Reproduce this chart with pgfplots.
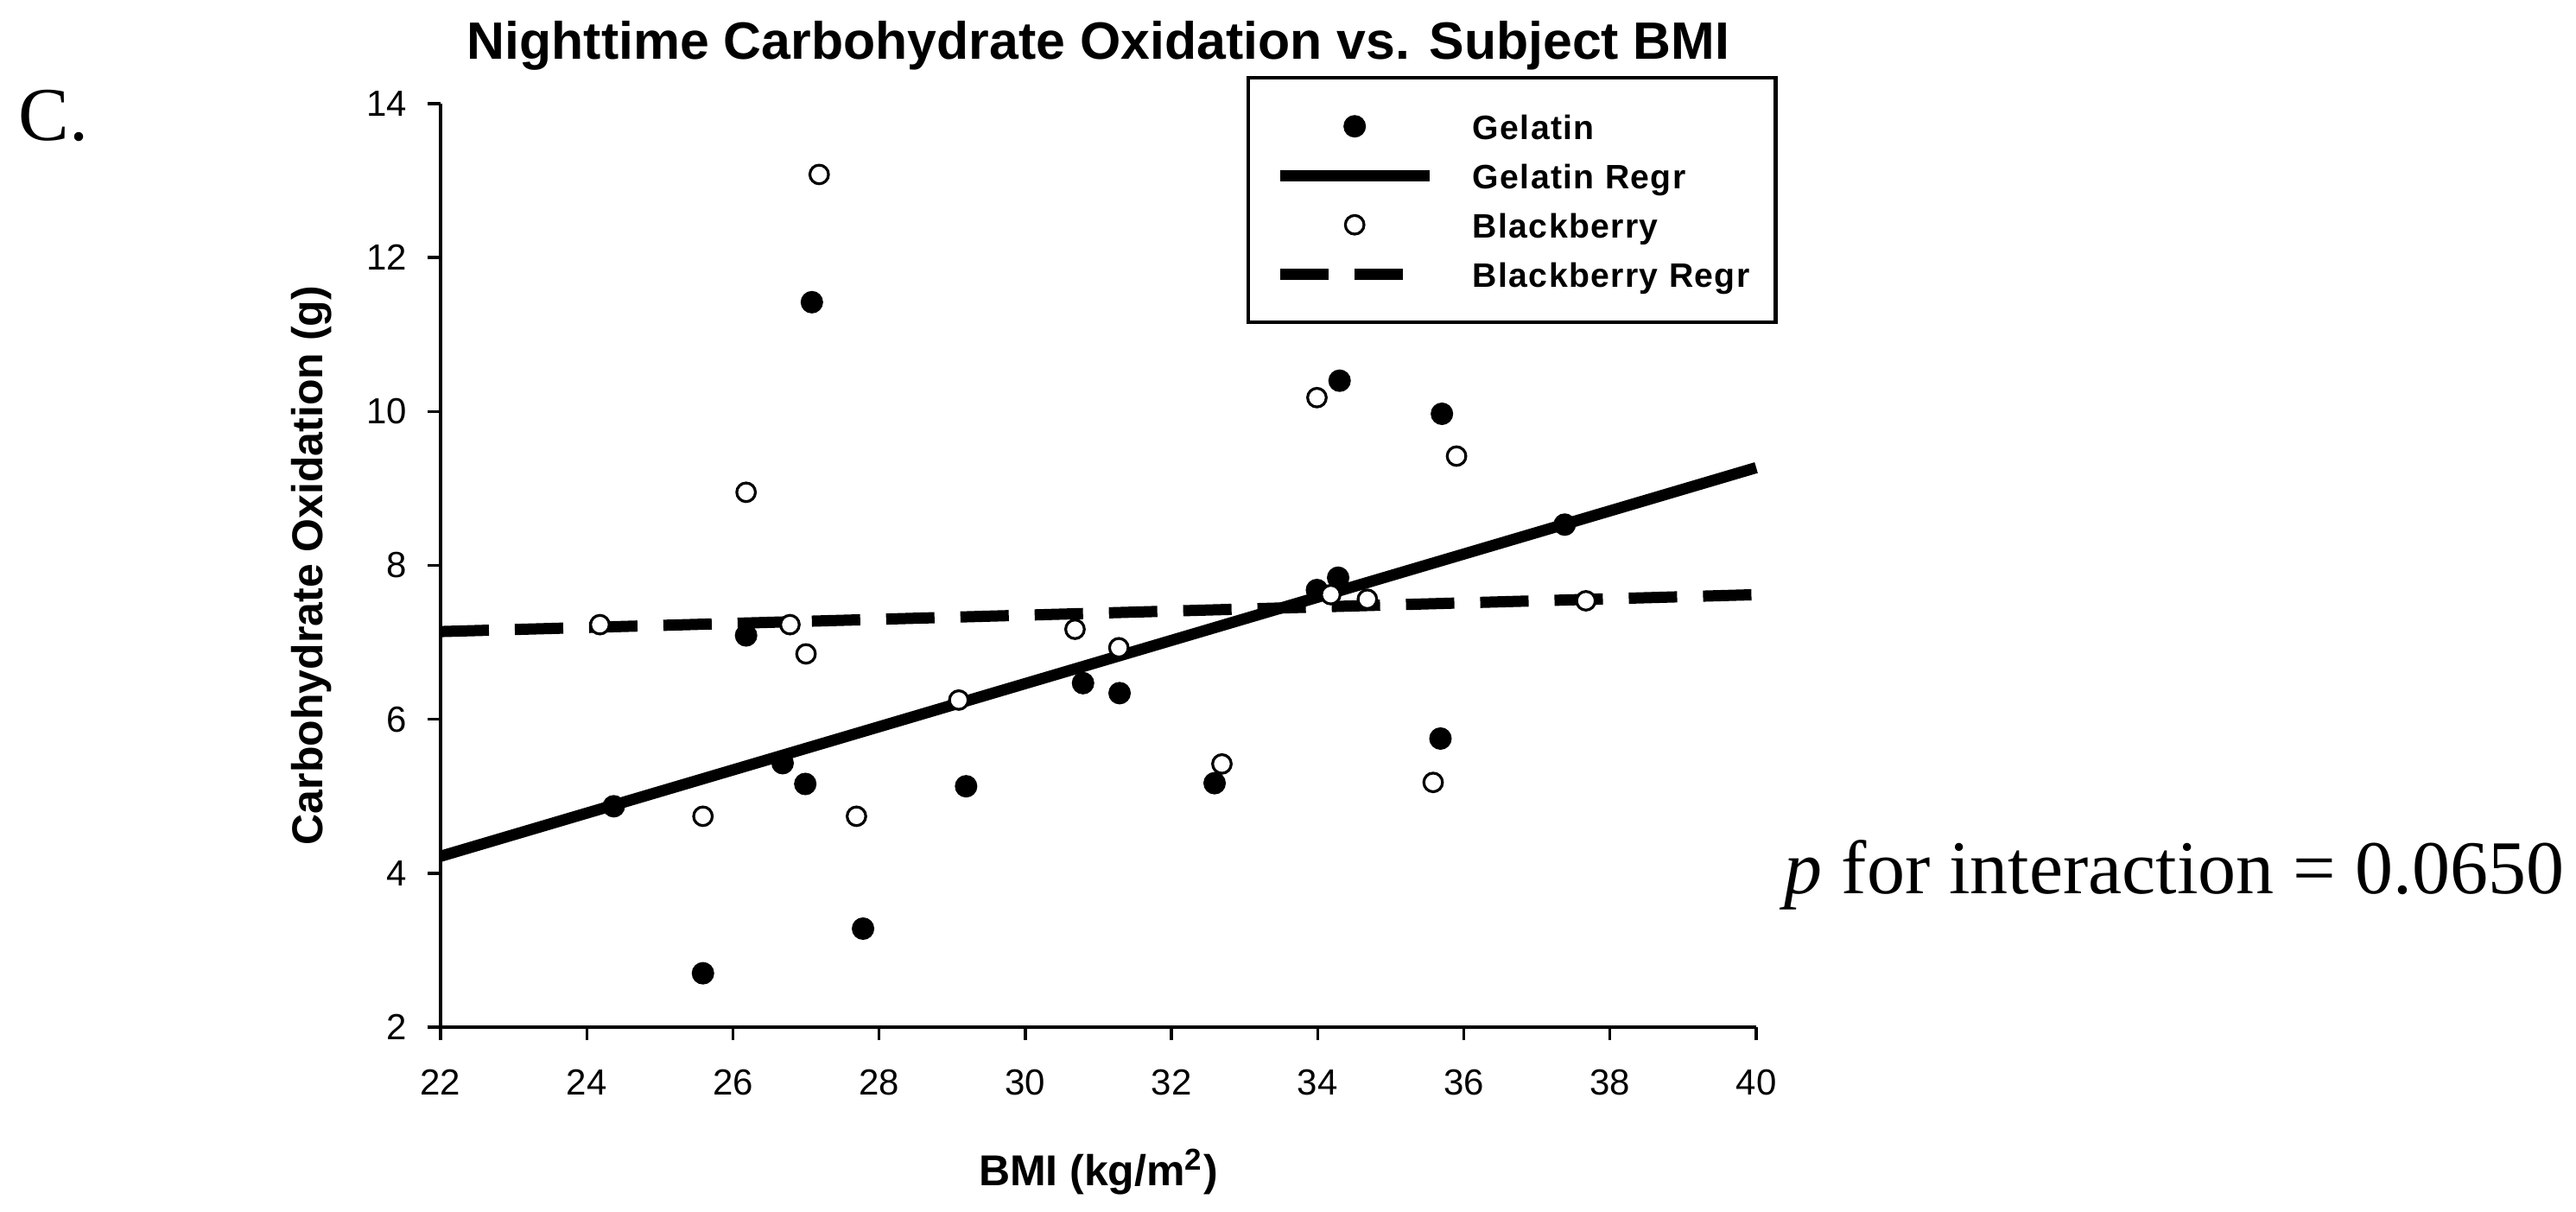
\documentclass[border=0pt]{standalone}
\usepackage{pgfplots}
\pgfplotsset{compat=1.18}
\usepackage{pgfplotstable}
\usepackage{fontspec}
\setmainfont{Liberation Sans}
\newfontfamily\serifb{Liberation Serif}
\newfontfamily\legfont{Liberation Sans}[LetterSpace=3.5]

\pgfplotsset{
  markleg/.style={legend image code/.code={\draw[mark repeat=2,mark phase=2,##1] plot coordinates {(0pt,0pt) (21.625pt,0pt) (43.25pt,0pt)};}},
  lineleg/.style={legend image code/.code={\draw[##1] (0pt,0pt) -- (#1,0pt);}},
}

\pgfplotstableread{
x y
24.37 4.87
25.59 2.70
26.18 7.09
26.68 5.43
26.99 5.16
27.08 11.42
27.78 3.28
29.19 5.13
30.79 6.47
31.29 6.34
32.59 5.17
33.99 7.68
34.28 7.84
34.30 10.40
35.68 5.75
35.70 9.97
37.38 8.53
}\gelatin

\pgfplotstableread{
x y
24.18 7.23
25.59 4.74
26.18 8.95
26.78 7.23
27.00 6.85
27.18 13.08
27.69 4.74
29.09 6.25
30.68 7.17
31.28 6.93
32.69 5.42
33.99 10.18
34.18 7.62
34.68 7.56
35.58 5.18
35.90 9.42
37.67 7.54
}\blackberry

\begin{document}
\begin{tikzpicture}
\useasboundingbox (-127.5pt,-53.25pt) rectangle (618pt,297.25pt);
\begin{axis}[
  at={(0pt,0pt)}, anchor=south west,
  scale only axis, width=380.75pt, height=267.25pt,
  xmin=22, xmax=40, ymin=2, ymax=14,
  xtick={22,24,...,40}, ytick={2,4,...,14},
  axis x line*=bottom, axis y line*=left,
  axis line style={line width=0.85pt},
  tick style={line width=0.85pt, black},
  tick align=outside, major tick length=3.75pt,
  clip=false,
  /pgf/number format/assume math mode=true,
  ticklabel style={font=\fontsize{10.5}{12}\selectfont},
  xticklabel style={inner sep=0pt, yshift=-8.25pt},
  yticklabel style={inner sep=0pt, xshift=-5.75pt},
  xlabel={BMI (kg/m\textsuperscript{2})},
  ylabel={Carbohydrate Oxidation (g)},
  label style={font=\bfseries\fontsize{12.5}{15}\selectfont},
  xlabel style={at={(axis description cs:0.5,-0.17119)}, anchor=base},
  ylabel style={at={(axis description cs:-0.09797,0.5)}, anchor=center},
  legend cell align=left,
  legend style={at={(0.6126,1.0299)}, anchor=north west,
    draw=black, line width=1.1pt, fill=white,
    inner xsep=7.5pt, inner ysep=10.25pt,
    row sep=6.75pt, column sep=10.9pt,
    font=\legfont\bfseries\fontsize{9.8}{12}\selectfont,
    nodes={inner sep=0pt, text height=7.5pt, text depth=0pt}},
]
\addplot[forget plot, black, line width=3.25pt] coordinates {(22,4.22) (40,9.27)};
\addplot[forget plot, black, line width=3.25pt, dash pattern=on 14pt off 7.5pt] coordinates {(22,7.14) (40,7.62)};

\addplot[only marks, mark=*, mark size=3pt,
  mark options={draw=black, fill=black, line width=0.5pt}, markleg]
  table[x=x, y=y] {\gelatin};
\addlegendentry{Gelatin}
\addlegendimage{black, line width=3.25pt, lineleg=43.25pt}
\addlegendentry{Gelatin Regr}
\addplot[only marks, mark=*, mark size=2.7pt,
  mark options={draw=black, fill=white, line width=0.8pt}, markleg]
  table[x=x, y=y] {\blackberry};
\addlegendentry{Blackberry}
\addlegendimage{black, line width=3.25pt, dash pattern=on 14pt off 7.5pt, lineleg=35.5pt}
\addlegendentry{Blackberry Regr}
\end{axis}
\node[anchor=base, inner sep=0pt, font=\bfseries\fontsize{15.2}{18}\selectfont] at (190.4pt,280.1pt) {Nighttime Carbohydrate Oxidation vs. Subject BMI};
\node[anchor=base west, inner sep=0pt, font=\serifb\fontsize{22}{26}\selectfont] at (-122.25pt,256.5pt) {C.};
\node[anchor=base west, inner sep=0pt, font=\serifb\fontsize{22}{26}\selectfont] at (388.75pt,38.5pt) {\textit{p} for interaction = 0.0650};
\end{tikzpicture}
\end{document}
